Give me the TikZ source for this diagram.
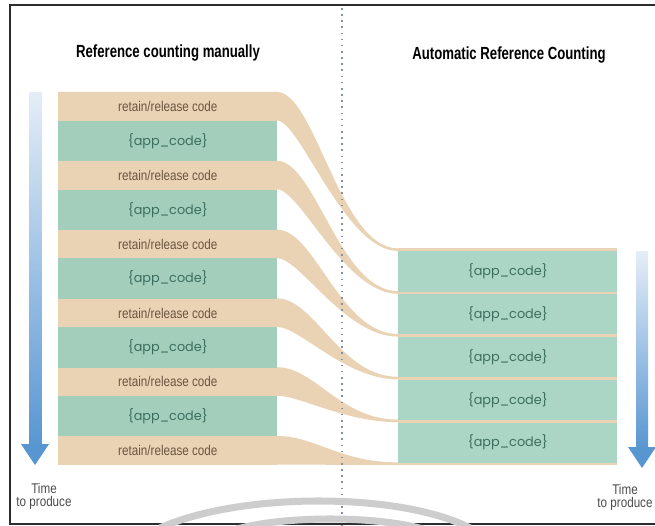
\documentclass[tikz,border=0pt]{standalone}
\usepackage{fontspec}
\setmainfont{Liberation Sans}
\newfontfamily\headfont[FakeStretch=0.75]{Liberation Sans}
\newfontfamily\notefont[FakeStretch=0.83]{Liberation Sans}
\newfontfamily\codefont{Poppins}

\definecolor{tan}{RGB}{234,211,180}
\definecolor{mint}{RGB}{163,206,188}
\definecolor{mintlight}{RGB}{171,213,196}
\definecolor{tantext}{RGB}{105,85,65}
\definecolor{codetext}{RGB}{60,110,95}
\definecolor{arrowblue}{RGB}{88,150,210}
\definecolor{arrowpale}{RGB}{228,237,247}
\definecolor{framegray}{RGB}{45,45,45}
\definecolor{dotgray}{RGB}{130,145,165}
\definecolor{markgray}{RGB}{205,205,205}

\begin{document}
\begin{tikzpicture}[x=0.02cm,y=-0.02cm,
  retainbox/.style={anchor=north west,fill=tan,inner sep=0pt,
    minimum width=4.38cm,minimum height=0.57cm,text=tantext,
    font=\notefont\fontsize{8}{9}\selectfont},
  appbox/.style={anchor=north west,fill=mint,inner sep=0pt,
    minimum width=4.38cm,minimum height=0.806cm,text=codetext,
    font=\codefont\fontsize{7.3}{9}\selectfont},
  arcbox/.style={appbox,fill=mintlight,minimum height=0.804cm},
  heading/.style={font=\headfont\bfseries\fontsize{10}{12}\selectfont,text=black},
  timelabel/.style={align=center,text=black!70,inner sep=0pt,
    font=\notefont\fontsize{8}{7.4}\selectfont},
  divider/.style={draw=dotgray,line width=0.8pt,dash pattern=on 0.9pt off 2.6pt},
  bandfill/.style={fill=tan},
  shaft/.style={top color=arrowpale,bottom color=arrowblue},
  tip/.style={fill=arrowblue},
  frameline/.style={draw=framegray,line width=1.3pt},
  watermark/.style={draw=markgray,line width=4pt}
]
% page
\fill[white] (0,0) rectangle (655,526);
\useasboundingbox (0,0) rectangle (655,526);

% frame, open on the right
\draw[frameline] (655,5) -- (10,5) -- (10,524) -- (655,524);

% headings
\node[heading] (hleft) at (168,53) {Reference counting manually};
\node[heading] (hright) at (509,55) {Automatic Reference Counting};

% retain/release bands flowing into the thin separators on the right
\foreach \k in {1,...,6}{
  \pgfmathsetmacro{\yT}{92+68.8*(\k-1)}
  \pgfmathsetmacro{\yB}{\yT+28.5}
  \pgfmathsetmacro{\Ya}{249.7+42.8*(\k-1)-1.3}
  \pgfmathsetmacro{\Yb}{249.7+42.8*(\k-1)+1.3}
  \fill[bandfill] (58,\yT) -- (277,\yT)
     .. controls (315,\yT) and (340,\Ya) .. (398,\Ya) -- (398,\Yb)
     .. controls (345,\Yb) and (300,\yB) .. (277,\yB) -- (58,\yB) -- cycle;
  \node[retainbox] (r\k) at (58,\yT) {retain/release code};
}

% application code, manual column
\foreach \k in {1,...,5}{
  \pgfmathsetmacro{\yA}{120.5+68.8*(\k-1)}
  \node[appbox] (a\k) at (58,\yA) {\{app\_code\}};
}

% application code, automatic column
\fill[bandfill] (398,248.4) rectangle (617,465);
\foreach \k in {1,...,5}{
  \pgfmathsetmacro{\yA}{251+42.8*(\k-1)}
  \node[arcbox] (b\k) at (398,\yA) {\{app\_code\}};
}

% dotted divider
\draw[divider] (342,8) -- (342,526);

% time arrows
\shade[shaft] (29.5,93) rectangle (41.5,446);
\fill[tip] (21,444) -- (49,444) -- (35,465) -- cycle;
\shade[shaft] (636,252) rectangle (648,449);
\fill[tip] (628,447) -- (656,447) -- (642,468) -- cycle;

\node[timelabel] (tleft) at (44,496) {Time\\to produce};
\node[timelabel] (tright) at (625,497) {Time\\to produce};

% faint seal arcs at the foot
\draw[watermark] (160,528) .. controls (240,492) and (400,492) .. (470,528);
\draw[watermark] (230,531) .. controls (280,515) and (380,515) .. (430,531);
\end{tikzpicture}
\end{document}
